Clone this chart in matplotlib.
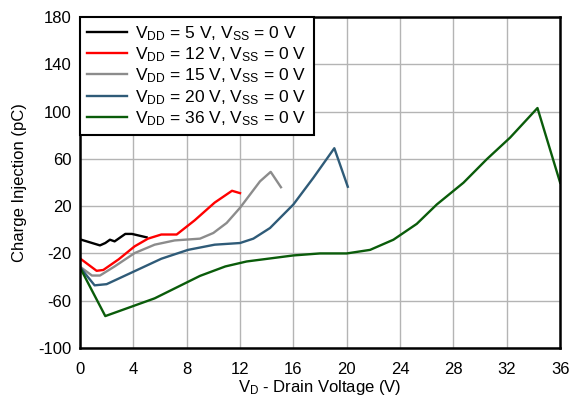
import matplotlib
matplotlib.use("Agg")
import matplotlib.pyplot as plt

plt.rcParams["font.family"] = ["Liberation Sans", "DejaVu Sans"]
plt.rcParams["mathtext.fontset"] = "custom"
plt.rcParams["mathtext.rm"] = "Liberation Sans"
plt.rcParams["mathtext.it"] = "Liberation Sans"
plt.rcParams["axes.unicode_minus"] = False

# ── Data ──────────────────────────────────────────────────────────────────────
x_5v = [0.1, 1.5, 1.9, 2.25, 2.6, 3.4, 3.9, 5.0]
y_5v = [-8.4, -13.2, -11.2, -8.4, -9.8, -3.5, -3.5, -6.4]

x_12v = [0.1, 1.25, 1.75, 2.9, 4.1, 5.1, 6.1, 7.25, 8.6, 10.1, 11.4, 12.0]
y_12v = [-25, -34.7, -34, -25, -14, -7.5, -4, -4, 8, 23, 33, 31]

x_15v = [0.1, 0.9, 1.5, 2.6, 4.1, 5.6, 7.1, 9.0, 10.0, 11.0, 12.0, 13.5, 14.3, 15.07]
y_15v = [-32, -38.7, -38.7, -31, -19.7, -12.6, -9, -7.5, -2.7, 5.8, 18.6, 41, 49, 36]

x_20v = [0.1, 1.1, 2.0, 4.1, 6.1, 8.1, 10.1, 12.0, 13.0, 14.25, 16.0, 17.5, 19.07, 20.08]
y_20v = [-33, -47, -46, -35, -24.5, -17, -12.6, -11.2, -7.5, 1.5, 21.4, 44, 69, 36.4]

x_36v = [0.1, 1.9, 5.6, 9.0, 10.9, 12.5, 16.0, 18.0, 20.0, 21.75, 23.5, 25.25,
         26.75, 28.75, 30.5, 32.25, 34.3, 36.0]
y_36v = [-34, -73, -58, -39, -31, -26.8, -21.7, -20, -20, -17, -8.4, 5,
         21.4, 39.8, 59.7, 78, 103, 39.8]

labels = [r"V$_{\mathrm{DD}}$ = 5 V, V$_{\mathrm{SS}}$ = 0 V",
          r"V$_{\mathrm{DD}}$ = 12 V, V$_{\mathrm{SS}}$ = 0 V",
          r"V$_{\mathrm{DD}}$ = 15 V, V$_{\mathrm{SS}}$ = 0 V",
          r"V$_{\mathrm{DD}}$ = 20 V, V$_{\mathrm{SS}}$ = 0 V",
          r"V$_{\mathrm{DD}}$ = 36 V, V$_{\mathrm{SS}}$ = 0 V"]
colors = ["#000000", "#ff0000", "#8c8c8c", "#2f5b78", "#0a5c0a"]

x_ticks = list(range(0, 37, 4))
y_ticks = list(range(-100, 181, 40))

fig = plt.figure(figsize=(5.71, 4.0), dpi=100)
ax = fig.add_axes([0.140, 0.13, 0.841, 0.8275])

series = [(x_5v, y_5v), (x_12v, y_12v), (x_15v, y_15v), (x_20v, y_20v), (x_36v, y_36v)]
for (xs, ys), lab, col in zip(series, labels, colors):
    ax.plot(xs, ys, color=col, lw=1.7, label=lab)

ax.set_xlim(0, 36)
ax.set_ylim(-100, 180)
ax.set_xticks(x_ticks)
ax.set_yticks(y_ticks)
ax.tick_params(length=0, labelsize=12)
ax.tick_params(axis="x", pad=10)
ax.tick_params(axis="y", pad=6)
ax.grid(True, color="#b4b4b4", lw=1.0)
ax.set_axisbelow(True)
for s in ax.spines.values():
    s.set_color("black")
    s.set_linewidth(1.8)

ax.set_xlabel(r"V$_{\mathrm{D}}$ - Drain Voltage (V)", fontsize=12, labelpad=1)
ax.set_ylabel("Charge Injection (pC)", fontsize=12, labelpad=8)

leg = ax.legend(loc="upper left", bbox_to_anchor=(0, 1), fontsize=12.5,
                frameon=True, fancybox=False, borderaxespad=0,
                handlelength=2.3, handletextpad=0.5, labelspacing=0.15,
                borderpad=0.4)
leg.get_frame().set_edgecolor("black")
leg.get_frame().set_linewidth(1.5)
leg.get_frame().set_alpha(1)

fig.savefig("out.png", dpi=100)
